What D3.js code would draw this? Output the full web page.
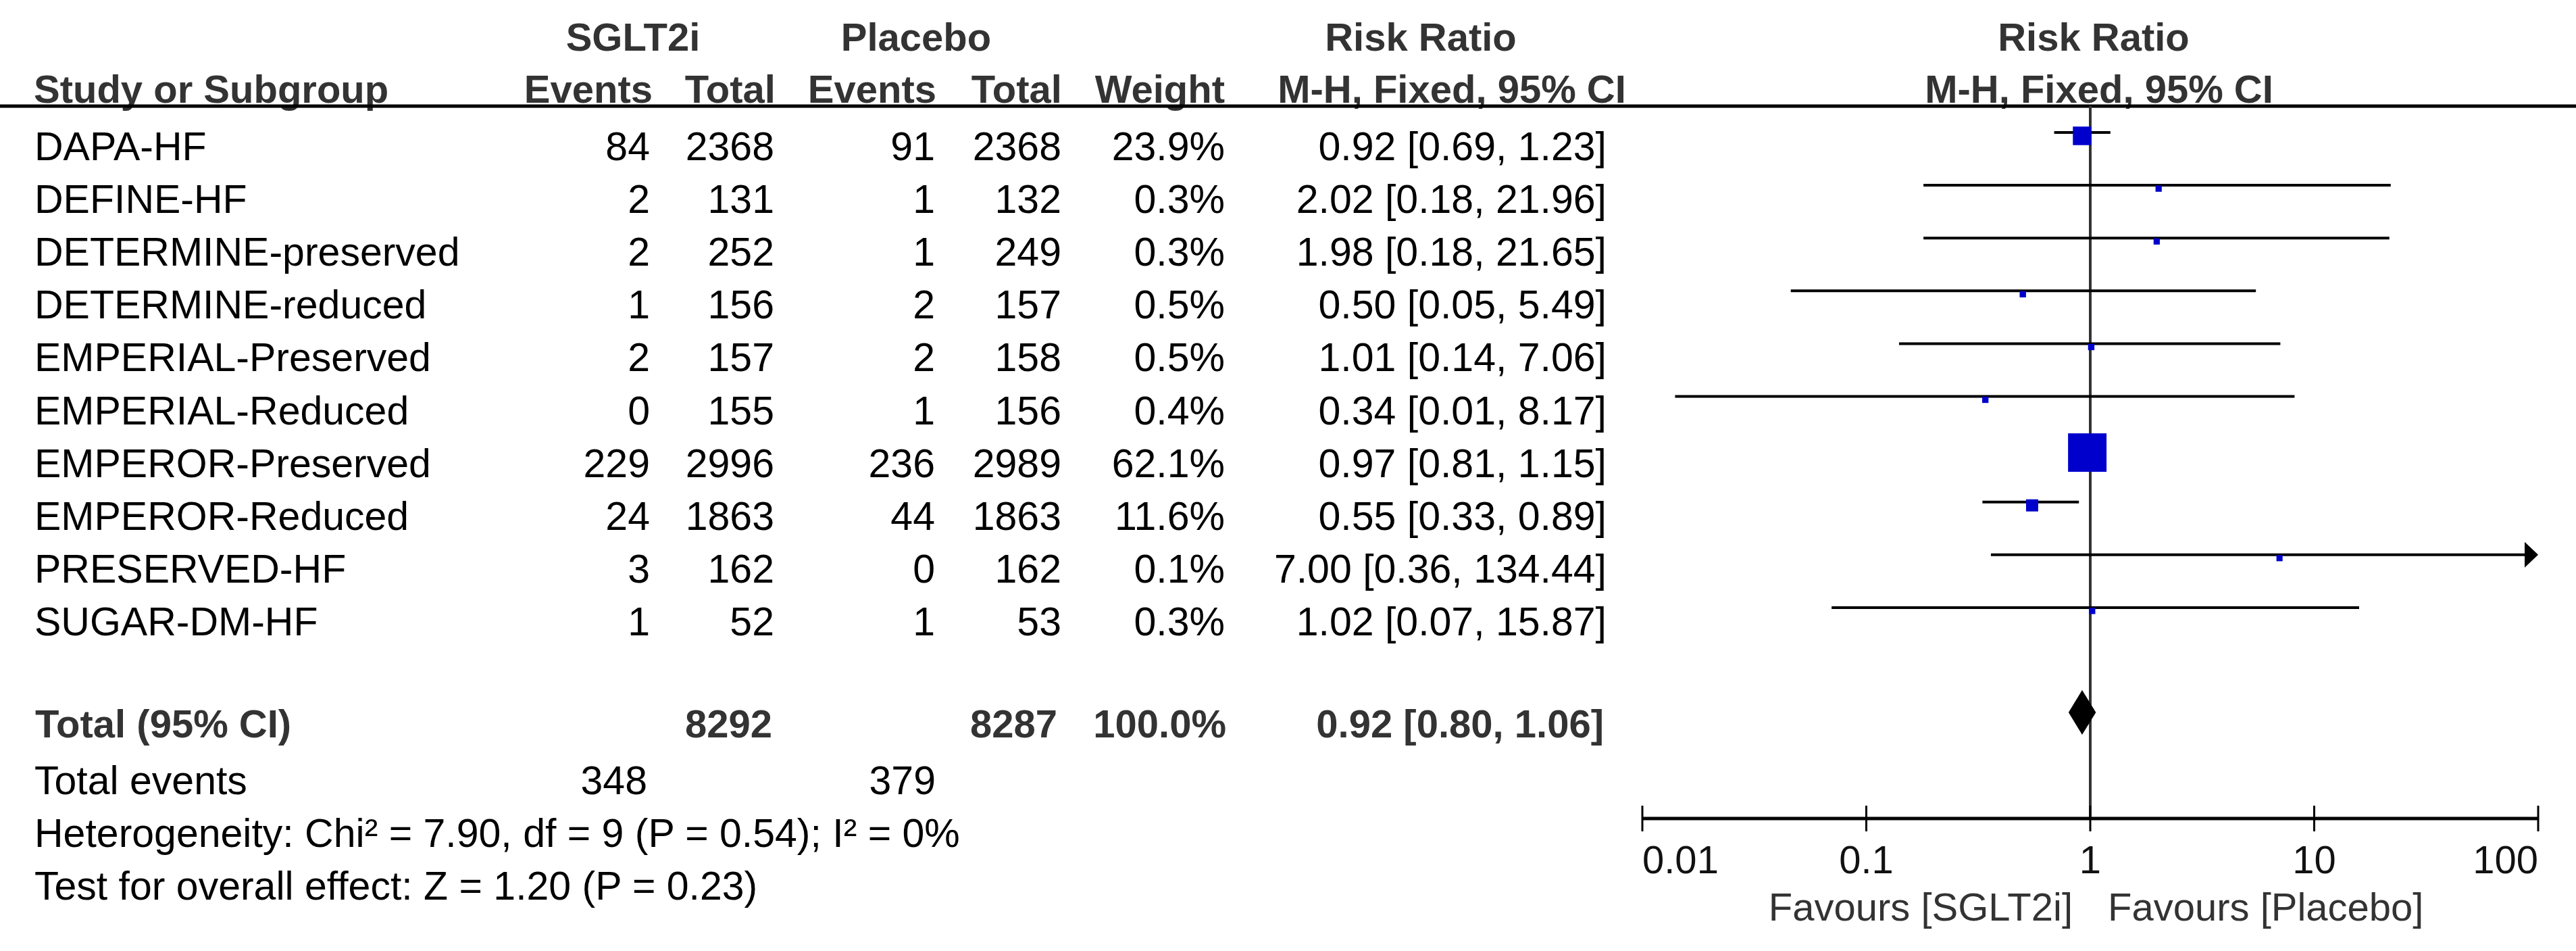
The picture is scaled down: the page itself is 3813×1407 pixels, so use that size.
<!DOCTYPE html>
<html>
<head>
<meta charset="utf-8">
<script src="https://cdn.jsdelivr.net/npm/d3@7"></script>
<style>
  html, body { margin: 0; padding: 0; background: #fff; }
  svg { display: block; font-family: "Liberation Sans", Arial, sans-serif; }
</style>
</head>
<body>
<svg id="chart" width="3813" height="1407"></svg>
<script>
// ---- Data ----
const studies = ["DAPA-HF", "DEFINE-HF", "DETERMINE-preserved", "DETERMINE-reduced", "EMPERIAL-Preserved",
  "EMPERIAL-Reduced", "EMPEROR-Preserved", "EMPEROR-Reduced", "PRESERVED-HF", "SUGAR-DM-HF"];
const sgltEvents = [84, 2, 2, 1, 2, 0, 229, 24, 3, 1];
const sgltTotal = [2368, 131, 252, 156, 157, 155, 2996, 1863, 162, 52];
const placEvents = [91, 1, 1, 2, 2, 1, 236, 44, 0, 1];
const placTotal = [2368, 132, 249, 157, 158, 156, 2989, 1863, 162, 53];
const weights = [23.9, 0.3, 0.3, 0.5, 0.5, 0.4, 62.1, 11.6, 0.1, 0.3];
const rr = [0.92, 2.02, 1.98, 0.50, 1.01, 0.34, 0.97, 0.55, 7.00, 1.02];
// lower/upper bounds as plotted (they round to the printed 2-decimal values)
const ciLow = [0.69, 0.18, 0.18, 0.046, 0.14, 0.014, 0.81, 0.33, 0.36, 0.07];
const ciHigh = [1.23, 21.96, 21.65, 5.49, 7.06, 8.17, 1.15, 0.89, 134.44, 15.87];

const totalLabel = "Total (95% CI)";
const totalSglt = 8292, totalPlac = 8287, totalWeight = 100.0;
const totalRR = 0.92, totalLow = 0.80, totalHigh = 1.06;
const totalEventsSglt = 348, totalEventsPlac = 379;
const heterogeneityText = "Heterogeneity: Chi² = 7.90, df = 9 (P = 0.54); I² = 0%";
const overallText = "Test for overall effect: Z = 1.20 (P = 0.23)";

const tickValues = [0.01, 0.1, 1, 10, 100];
const tickLabels = ["0.01", "0.1", "1", "10", "100"];
const favoursLeft = "Favours [SGLT2i]";
const favoursRight = "Favours [Placebo]";

// ---- Layout ----
const svg = d3.select("#chart");
const FS = 59;
const x = d3.scaleLog().domain([0.01, 100]).range([2431, 3757]);
const rowY = d3.scaleLinear().domain([0, 1]).range([196, 274.1]); // CI line y for row index
const markerSize = d3.scaleLinear().domain([0, 100]).range([9, 86.2]);
const col = { study: 51, e1: 962, t1: 1146, e2: 1384, t2: 1571, w: 1813, ci: 2378 };
const blue = "#0000CC";
const fmt2 = d3.format(".2f");
const ciText = (r, l, h) => `${fmt2(r)} [${fmt2(l)}, ${fmt2(h)}]`;

function txt(xp, yp, s, opts = {}) {
  return svg.append("text")
    .attr("x", xp).attr("y", yp)
    .attr("font-size", opts.size || FS)
    .attr("font-weight", opts.bold ? "bold" : "normal")
    .attr("fill", opts.fill || "#000")
    .attr("text-anchor", opts.anchor || "start")
    .text(s);
}

// ---- Headers ----
const hdr = { bold: true, fill: "#333", size: 58 };
txt(937, 75, "SGLT2i", { ...hdr, anchor: "middle" });
txt(1356, 75, "Placebo", { ...hdr, anchor: "middle" });
txt(2103, 75, "Risk Ratio", { ...hdr, anchor: "middle" });
txt(3099, 75, "Risk Ratio", { ...hdr, anchor: "middle" });
txt(col.study - 1, 152, "Study or Subgroup", hdr);
txt(col.e1 + 4, 152, "Events", { ...hdr, anchor: "end" });
txt(col.t1 + 2, 152, "Total", { ...hdr, anchor: "end" });
txt(col.e2 + 2, 152, "Events", { ...hdr, anchor: "end" });
txt(col.t2 + 1, 152, "Total", { ...hdr, anchor: "end" });
txt(col.w, 152, "Weight", { ...hdr, anchor: "end" });
txt(2149, 152, "M-H, Fixed, 95% CI", { ...hdr, anchor: "middle" });
txt(3107, 152, "M-H, Fixed, 95% CI", { ...hdr, anchor: "middle" });

svg.append("line").attr("x1", 0).attr("x2", 3813).attr("y1", 157).attr("y2", 157)
  .attr("stroke", "#000").attr("stroke-width", 5);

// ---- Null line ----
svg.append("line").attr("x1", x(1)).attr("x2", x(1)).attr("y1", 157).attr("y2", 1211)
  .attr("stroke", "#333").attr("stroke-width", 4);

// ---- Study rows ----
studies.forEach((s, i) => {
  const ly = rowY(i);
  const by = ly + 41;
  txt(col.study, by, s);
  txt(col.e1, by, sgltEvents[i], { anchor: "end" });
  txt(col.t1, by, sgltTotal[i], { anchor: "end" });
  txt(col.e2, by, placEvents[i], { anchor: "end" });
  txt(col.t2, by, placTotal[i], { anchor: "end" });
  txt(col.w, by, weights[i].toFixed(1) + "%", { anchor: "end" });
  txt(col.ci, by, ciText(rr[i], ciLow[i], ciHigh[i]), { anchor: "end" });

  const [d0, d1] = x.domain();
  const lo = Math.max(ciLow[i], d0), hi = Math.min(ciHigh[i], d1);
  const arrowR = ciHigh[i] > d1, arrowL = ciLow[i] < d0;
  svg.append("line")
    .attr("x1", arrowL ? x(lo) + 18 : x(lo)).attr("x2", arrowR ? x(hi) - 18 : x(hi))
    .attr("y1", ly).attr("y2", ly)
    .attr("stroke", "#000").attr("stroke-width", 4);
  if (arrowR) {
    const tx = x(hi);
    svg.append("path").attr("d", `M${tx},${ly} L${tx - 20},${ly - 19} L${tx - 20},${ly + 19} Z`).attr("fill", "#000");
  }
  if (arrowL) {
    const tx = x(lo);
    svg.append("path").attr("d", `M${tx},${ly} L${tx + 20},${ly - 19} L${tx + 20},${ly + 19} Z`).attr("fill", "#000");
  }
  const sz = markerSize(weights[i]);
  svg.append("rect")
    .attr("x", x(rr[i]) - sz / 2).attr("y", ly + 5 - sz / 2)
    .attr("width", sz).attr("height", sz)
    .attr("fill", blue);
});

// ---- Total row ----
const ty = rowY(11) - 1;
const tb = { bold: true, fill: "#333", size: 58 };
txt(col.study + 1, 1091, totalLabel, tb);
txt(col.t1 - 3, 1091, totalSglt, { ...tb, anchor: "end" });
txt(col.t2 - 6, 1091, totalPlac, { ...tb, anchor: "end" });
txt(col.w + 2, 1091, totalWeight.toFixed(1) + "%", { ...tb, anchor: "end" });
txt(col.ci - 4, 1091, ciText(totalRR, totalLow, totalHigh), { ...tb, anchor: "end" });
svg.append("path")
  .attr("d", `M${x(totalLow)},${ty} L${x(totalRR)},${ty - 33} L${x(totalHigh)},${ty} L${x(totalRR)},${ty + 33} Z`)
  .attr("fill", "#000");

txt(col.study, 1175, "Total events");
txt(col.e1 - 4, 1175, totalEventsSglt, { anchor: "end" });
txt(col.e2 + 1, 1175, totalEventsPlac, { anchor: "end" });
txt(col.study, 1253, heterogeneityText);
txt(col.study, 1331, overallText);

// ---- Axis ----
const axisY = 1211;
const axisG = svg.append("g").attr("transform", `translate(0,${axisY})`)
  .call(d3.axisBottom(x).tickValues(tickValues).tickSize(0).tickFormat(""));
axisG.select(".domain").attr("stroke", "#000").attr("stroke-width", 5).attr("d", `M${x(0.01)},0H${x(100)}`);
axisG.selectAll(".tick line").remove();
tickValues.forEach((v, i) => {
  svg.append("line").attr("x1", x(v)).attr("x2", x(v)).attr("y1", axisY - 19).attr("y2", axisY + 19)
    .attr("stroke", "#000").attr("stroke-width", 3);
  const anchor = i === 0 ? "start" : (i === tickValues.length - 1 ? "end" : "middle");
  txt(x(v), 1292, tickLabels[i], { anchor, fill: "#111", size: 58 });
});
txt(x(1) - 26, 1362, favoursLeft, { anchor: "end", fill: "#333", size: 58 });
txt(x(1) + 26, 1362, favoursRight, { anchor: "start", fill: "#333", size: 58 });
</script>
</body>
</html>
